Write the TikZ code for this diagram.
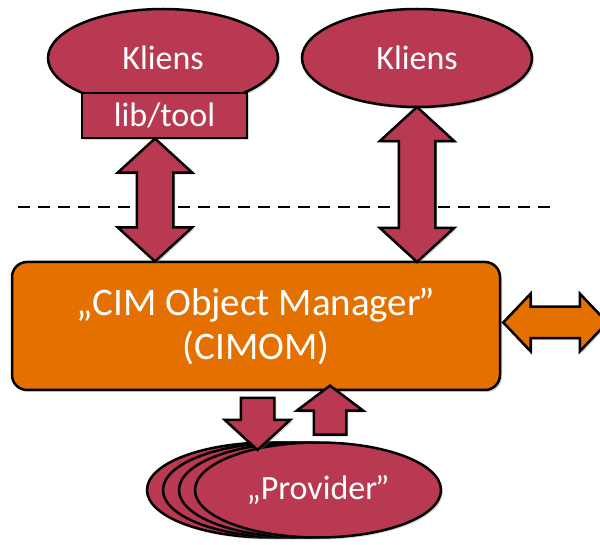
\documentclass[tikz,border=0pt]{standalone}
\usepackage{fontspec}
\setmainfont{Carlito}
\usetikzlibrary{arrows,
  calc,
  positioning,
  shapes,
  shapes.arrows,
  shadows
}
\definecolor{wine}{RGB}{185,57,82}
\definecolor{cimorange}{RGB}{228,112,0}
\tikzset{
  shade it/.style={drop shadow={shadow xshift=2pt, shadow yshift=-2pt, opacity=.3}},
  client/.style={ellipse, draw=black, line width=2.5pt, fill=wine, text=white,
    minimum width=230pt, minimum height=98pt, inner sep=0pt, shade it},
  libbox/.style={rectangle, draw=black, line width=2.5pt, fill=wine, text=white,
    minimum width=165pt, minimum height=45pt, inner sep=0pt, shade it},
  cimbox/.style={rectangle, rounded corners=15pt, draw=black, line width=2.5pt,
    fill=cimorange, text=white, align=center, minimum width=488pt,
    minimum height=128pt, inner sep=0pt, shade it,
    font=\fontsize{39}{44}\selectfont},
  prov/.style={ellipse, draw=black, line width=2.5pt, fill=wine, text=white,
    minimum width=246pt, minimum height=95pt, inner sep=0pt},
  fatdbl/.style={double arrow, draw=black, line width=2.5pt, inner xsep=0pt,
    inner ysep=17pt, double arrow head extend=19pt, double arrow tip angle=95,
    shade it},
  fatone/.style={single arrow, draw=black, line width=2.5pt, inner xsep=0pt,
    inner ysep=15.5pt, fill=wine, single arrow head extend=16pt, shade it}
}

\begin{document}
\begin{tikzpicture}[x=1pt, y=1pt, font=\fontsize{34}{44}\selectfont]
  \useasboundingbox (0, 0) rectangle (600, 544);

  % clients
  \node[client] (kl) at (163, 486) {Kliens};
  \node[libbox] (lib) at (164.5, 428.5) {lib/tool};
  \node[client] (kr) at (417, 486) {Kliens};

  % border
  \draw[dashed, dash pattern=on 12pt off 8pt, line width=2.5pt] (18, 337) -- (555, 337);

  % manager
  \node[cimbox] (cimom) at (256, 218) {„CIM Object Manager\kern-2pt”\\(CIMOM)};

  % providers
  \foreach \dx in {48, 32, 16}
    \node[prov, shade it] (pb\dx) at (318 - \dx, 54) {};
  \node[prov, shade it] (prov) at (318, 54) {„Provider\kern-2pt”};

  % client <-> manager
  \node[fatdbl, fill=wine, rotate=90, minimum height=123pt]
    (al) at ($(lib.south -| 155, 0)!.5!(cimom.north -| 155, 0)$) {};
  \node[fatdbl, fill=wine, rotate=90, minimum height=155pt]
    (ar) at ($(kr.south)!.5!(cimom.north -| kr.south)$) {};

  % manager <-> outside
  \node[fatdbl, fill=cimorange, minimum height=104pt, inner ysep=14.5pt,
    double arrow head extend=13pt, double arrow tip angle=93]
    (ao) at ($(cimom.east) + (54, 3.5)$) {};

  % manager <-> provider
  \node[fatone, rotate=-90, minimum height=52pt, single arrow tip angle=95]
    (adn) at ($(cimom.south -| 257.5, 0)!.5!(prov.north -| 257.5, 0)$) {};
  \node[fatone, rotate=90, minimum height=49pt, inner ysep=15pt,
    single arrow head extend=17pt, single arrow tip angle=106]
    (aup) at ($(cimom.south -| 330, 0)!.5!(prov.north -| 330, 0)$) {};
\end{tikzpicture}
\end{document}
